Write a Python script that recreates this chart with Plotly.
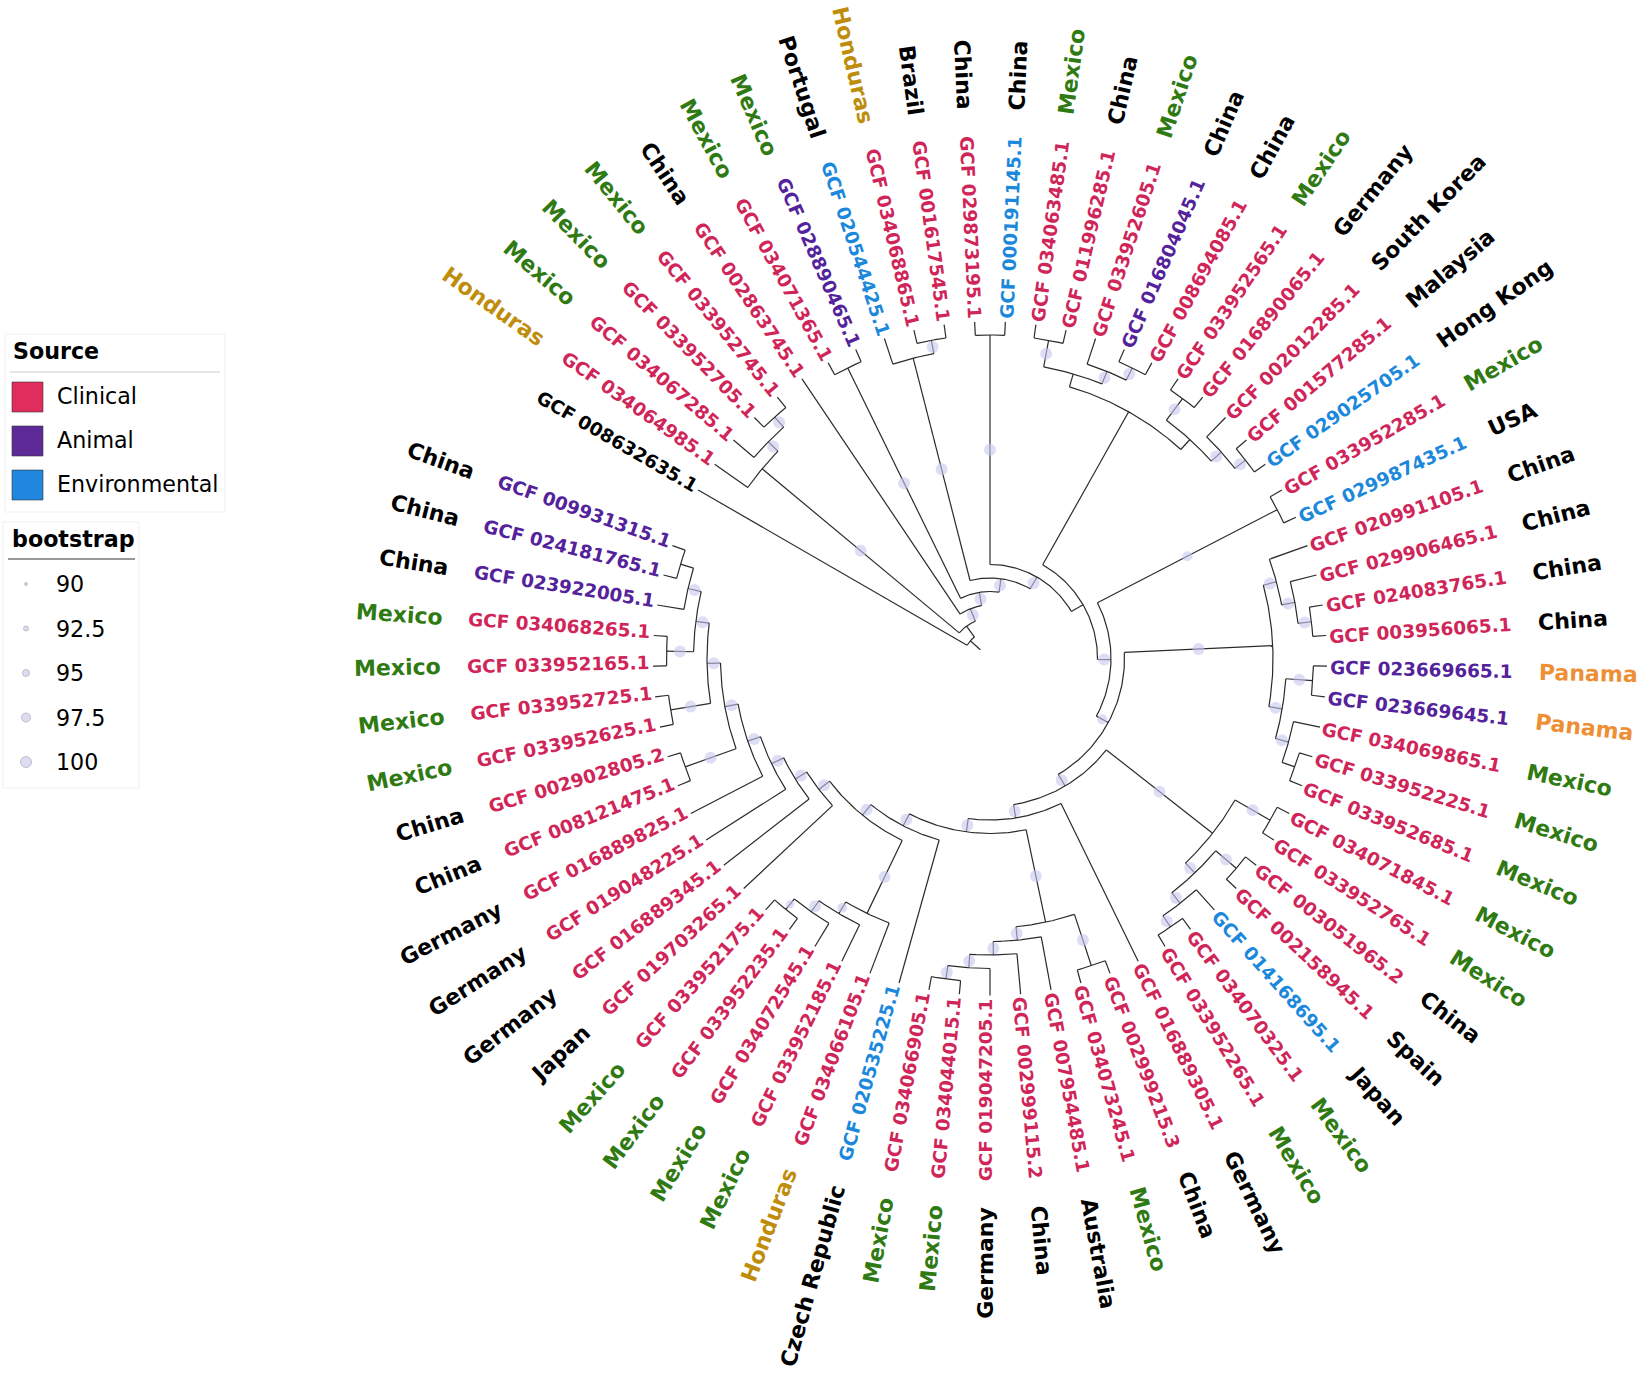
import re
import numpy as np
import plotly.graph_objects as go

# tips clockwise from the black one, index in this list + 1 = tip number in the tree below
tip_names = [
    "008632635.1", "034064985.1", "034067285.1", "033952705.1", "033952745.1", "002863745.1",
    "034071365.1", "028890465.1", "020544425.1", "034068865.1", "001617545.1", "029873195.1",
    "000191145.1", "034063485.1", "011996285.1", "033952605.1", "016804045.1", "008694085.1",
    "033952565.1", "016890065.1", "002012285.1", "001577285.1", "029025705.1", "033952285.1",
    "029987435.1", "020991105.1", "029906465.1", "024083765.1", "003956065.1", "023669665.1",
    "023669645.1", "034069865.1", "033952225.1", "033952685.1", "034071845.1", "033952765.1",
    "003051965.2", "002158945.1", "014168695.1", "034070325.1", "033952265.1", "016889305.1",
    "002999215.3", "034073245.1", "007954485.1", "002999115.2", "019047205.1", "034044015.1",
    "034066905.1", "020535225.1", "034066105.1", "033952185.1", "034072545.1", "033952235.1",
    "033952175.1", "019703265.1", "016889345.1", "019048225.1", "016889825.1", "008121475.1",
    "002902805.2", "033952625.1", "033952725.1", "033952165.1", "034068265.1", "023922005.1",
    "024181765.1", "009931315.1",
]
tip_countries = [
    "", "Honduras", "Mexico", "Mexico", "Mexico", "China", "Mexico", "Mexico", "Portugal",
    "Honduras", "Brazil", "China", "China", "Mexico", "China", "Mexico", "China", "China",
    "Mexico", "Germany", "South Korea", "Malaysia", "Hong Kong", "Mexico", "USA", "China",
    "China", "China", "China", "Panama", "Panama", "Mexico", "Mexico", "Mexico", "Mexico",
    "Mexico", "China", "Spain", "Japan", "Mexico", "Mexico", "Germany", "China", "Mexico",
    "Australia", "China", "Germany", "Mexico", "Mexico", "Czech Republic", "Honduras",
    "Mexico", "Mexico", "Mexico", "Mexico", "Japan", "Germany", "Germany", "Germany",
    "China", "China", "Mexico", "Mexico", "Mexico", "Mexico", "China", "China", "China",
]
animal_tips = ["028890465.1", "016804045.1", "023669665.1", "023669645.1", "023922005.1",
               "024181765.1", "009931315.1"]
environmental_tips = ["020544425.1", "000191145.1", "029025705.1", "029987435.1",
                      "014168695.1", "020535225.1"]
unknown_tips = ["008632635.1"]

# topology as newick, bootstrap as node labels, unlabelled nodes have no dot
clade_c = "(2,(3,(4,5)100)100)100"
clade_p = "(9,(10,11)100)100"
clade_u = "(((14,15)100,(16,(17,18)100)100),((19,20)100,(21,(22,23)100)100))"
clade_z = "((26,(27,(28,29)100)100)100,((30,31)100,(32,(33,34))100)100)100"
clade_j = "((35,36)100,((37,38)100,(39,(40,41)100)100)100)100"
clade_q = "((43,44)100,(45,(46,(47,(48,49)100)100)100)100)100"
clade_l = "(51,(52,(53,(54,55)95)100)97.5)100"
clade_d = "(56,(57,(58,(59,((60,61)100,((62,63)100,((64,65)100,(66,(67,68))100)100)100)100)100)100)100)100"
node_cc = f"(50,({clade_l},{clade_d})100)100"
node_aa = f"({clade_j},(42,({clade_q},{node_cc})100)100)100"
node_t = f"({clade_u},((24,25)97.5,({clade_z},{node_aa})97.5)100)"
node_x4 = f"({clade_p},((12,13)100,{node_t})100)100"
tree_newick = f"(1,({clade_c},(6,((7,8)100,{node_x4})100)100))"

source_names = ["Clinical", "Animal", "Environmental"]
source_colors = ["#E02D5E", "#5E2A98", "#1F88DE"]
label_colors = ["#D02559", "#54229A", "#1C88DC"]
bootstrap_levels = [90, 92.5, 95, 97.5, 100]
bootstrap_sizes = [3, 5, 7, 9, 11]
tree_dot_sizes = [3.5, 5.5, 8, 10, 12]

country_colors = {"Mexico": "#2F7A12", "Honduras": "#BE8D0B", "Panama": "#EE8F36"}

# layout, in page pixels
CX, CY = 990, 658.5
TIP_R = 337
STEP = 13.5
LABEL_R = 340
COUNTRY_R = 549
START_ANGLE = 150
DELTA = 360 / 69
GCF_SIZE = 18.4
COUNTRY_SIZE = 22
LEGEND_SIZE = 22.2
FONT = "DejaVu Sans"
LINE_COL = "#2b2b2b"
DOT_COL = "rgba(198,198,240,0.85)"

# DejaVu Sans Bold advance widths, only used to centre the rotated labels
char_w = {" ": .348, ".": .380, "A": .774, "B": .762, "C": .734, "F": .683, "G": .821, "H": .837,
          "J": .372, "K": .775, "M": .995, "P": .733, "R": .770, "S": .720, "U": .812,
          "a": .675, "b": .716, "c": .593, "d": .716, "e": .678, "g": .716, "h": .712, "i": .343,
          "k": .665, "l": .343, "m": 1.042, "n": .712, "o": .687, "p": .716, "r": .493, "s": .595,
          "t": .478, "u": .712, "x": .645, "y": .652, "z": .582}


def text_width(s, size):
    return sum(char_w.get(c, .696) for c in s) * size


def parse_newick(txt):
    tokens = re.findall(r"[(),]|[0-9.]+", txt)
    pos = 0

    def node():
        nonlocal pos
        if tokens[pos] == "(":
            pos += 1
            kids = [node()]
            while tokens[pos] == ",":
                pos += 1
                kids.append(node())
            pos += 1  # closing bracket
            boot = None
            if pos < len(tokens) and tokens[pos] not in "(),":
                boot = float(tokens[pos])
                pos += 1
            return {"kids": kids, "boot": boot}
        tip = int(tokens[pos])
        pos += 1
        return {"kids": [], "tip": tip, "boot": None}

    return node()


def layout_tree(n):
    # same idea as a cladogram: height = steps to the furthest tip, y = mean of children
    if not n["kids"]:
        n["h"], n["y"] = 0, n["tip"]
        return
    for k in n["kids"]:
        layout_tree(k)
    n["h"] = max(k["h"] for k in n["kids"]) + 1
    n["y"] = np.mean([k["y"] for k in n["kids"]])


def ang(y):
    return np.radians(START_ANGLE - (y - 1) * DELTA)


def rad(h):
    return TIP_R - h * STEP


def to_xy(r, a):
    return CX + r * np.cos(a), CY - r * np.sin(a)


root = parse_newick(tree_newick)
layout_tree(root)

line_x, line_y, dot_x, dot_y, dot_s = [], [], [], [], []


def add_line(xs, ys):
    line_x.extend(list(xs) + [None])
    line_y.extend(list(ys) + [None])


def walk(n, parent_r):
    r = rad(n["h"])
    a = ang(n["y"])
    x, y = to_xy(np.array([parent_r, r]), a)
    add_line(x, y)
    if n["boot"] is not None:
        mx, my = to_xy((parent_r + r) / 2, a)
        dot_x.append(mx)
        dot_y.append(my)
        dot_s.append(np.interp(n["boot"], bootstrap_levels, tree_dot_sizes))
    if n["kids"]:
        angs = np.linspace(ang(n["kids"][0]["y"]), ang(n["kids"][-1]["y"]), 60)
        x, y = to_xy(r, angs)
        add_line(x, y)
        for k in n["kids"]:
            walk(k, r)


walk(root, rad(root["h"] + 1))

fig = go.Figure()
fig.add_trace(go.Scatter(x=line_x, y=line_y, mode="lines", hoverinfo="skip",
                         line=dict(color=LINE_COL, width=1.2)))
fig.add_trace(go.Scatter(x=dot_x, y=dot_y, mode="markers", hoverinfo="skip",
                         marker=dict(size=dot_s, color=DOT_COL, line=dict(width=0))))

annots = []


def add_label(txt, start_r, a_deg, size, color):
    a = np.radians(a_deg)
    w = text_width(txt, size)
    mx, my = to_xy(start_r + w / 2, a)
    flip = np.cos(a) < -1e-9 or abs(a_deg + 90) < 1e-6
    tilt = (180 - a_deg) if flip else -a_deg
    # nudge across the text: the reference sits higher on its left and lower half
    lift = np.interp(a_deg % 360, [90, 140, 180, 270], [0, 1, 4, 4.5]) if flip else -1.5
    mx += lift * np.sin(np.radians(tilt))
    my -= lift * np.cos(np.radians(tilt))
    annots.append(dict(x=mx, y=my, xref="x", yref="y", text=txt, showarrow=False,
                       xanchor="center", yanchor="middle", textangle=tilt,
                       font=dict(family=FONT, size=size, color=color, weight="bold")))


for i, name in enumerate(tip_names):
    a_deg = START_ANGLE - i * DELTA
    if name in animal_tips:
        col = label_colors[1]
    elif name in environmental_tips:
        col = label_colors[2]
    elif name in unknown_tips:
        col = "#000000"
    else:
        col = label_colors[0]
    add_label("GCF " + name, LABEL_R, a_deg, GCF_SIZE, col)
    if tip_countries[i]:
        add_label(tip_countries[i], COUNTRY_R, a_deg, COUNTRY_SIZE,
                  country_colors.get(tip_countries[i], "#000000"))


def legend_text(txt, x, y, bold=False):
    annots.append(dict(x=x, y=y, xref="x", yref="y", text=txt, showarrow=False,
                       xanchor="left", yanchor="middle",
                       font=dict(family=FONT, size=LEGEND_SIZE, color="#000000",
                                 weight="bold" if bold else "normal")))


shapes = [
    dict(type="rect", x0=5, x1=225, y0=334, y1=512, line=dict(color="#efefef", width=1), fillcolor="white", layer="below"),
    dict(type="line", x0=10, x1=220, y0=372, y1=372, line=dict(color="#cccccc", width=1)),
    dict(type="rect", x0=3, x1=139, y0=522, y1=788, line=dict(color="#efefef", width=1), fillcolor="white", layer="below"),
    dict(type="line", x0=8, x1=135, y0=559, y1=559, line=dict(color="#333333", width=1)),
]
legend_text("Source", 11, 351, bold=True)
legend_text("bootstrap", 9.5, 539, bold=True)
for i, s in enumerate(source_names):
    top = 382 + i * 44
    shapes.append(dict(type="rect", x0=12, x1=43, y0=top, y1=top + 30, fillcolor=source_colors[i],
                       line=dict(color="#333333", width=0.6)))
    legend_text(s, 55, top + 14)

leg_y = [584 + i * 44.5 for i in range(len(bootstrap_levels))]
fig.add_trace(go.Scatter(x=[26] * len(leg_y), y=leg_y, mode="markers", hoverinfo="skip",
                         marker=dict(size=bootstrap_sizes, color=DOT_COL,
                                     line=dict(color="#777777", width=0.6))))
for lv, y in zip(bootstrap_levels, leg_y):
    legend_text(f"{lv:g}", 54, y)

fig.update_layout(
    width=1642, height=1374, margin=dict(l=0, r=0, t=0, b=0),
    paper_bgcolor="white", plot_bgcolor="white", showlegend=False,
    shapes=shapes, annotations=annots,
    xaxis=dict(range=[0, 1642], visible=False, fixedrange=True),
    yaxis=dict(range=[1374, 0], visible=False, fixedrange=True),
)
fig.write_html("out.html", config=dict(displayModeBar=False),
               post_script="document.body.style.margin='0';")
